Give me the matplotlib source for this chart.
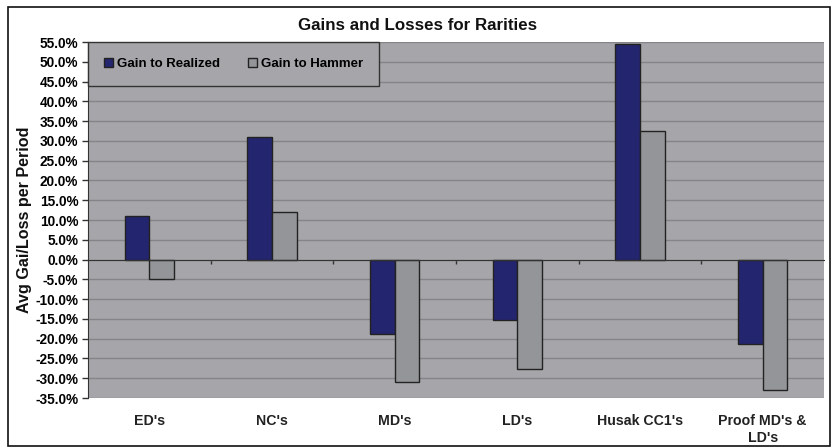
import matplotlib
matplotlib.use("Agg")
import matplotlib.pyplot as plt
import matplotlib.transforms as mtransforms
from matplotlib.patches import Rectangle
from matplotlib.ticker import FixedLocator, FuncFormatter
import numpy as np

plt.rcParams['font.family'] = ['Liberation Sans', 'DejaVu Sans']
plt.rcParams['font.weight'] = 'bold'

categories = ["ED's", "NC's", "MD's", "LD's", "Husak CC1's", "Proof MD's &\nLD's"]
gain_to_realized = [10.9, 31.1, -18.8, -15.4, 54.4, -21.4]
gain_to_hammer = [-4.8, 12.1, -30.9, -27.7, 32.5, -33.0]
y_ticks = [55, 50, 45, 40, 35, 30, 25, 20, 15, 10, 5, 0, -5, -10, -15, -20, -25, -30, -35]

fig = plt.figure(figsize=(8.36, 4.48), dpi=100)
fig.patch.set_facecolor('white')
ax = fig.add_axes([88/836, 1-398/448, (824-88)/836, (398-42)/448])
ax.set_facecolor('#A6A6AA')

x = np.arange(len(categories))
w = 0.2
ax.bar(x - w/2, gain_to_realized, w, color='#24256F', edgecolor='#222222', linewidth=1.0,
       label='Gain to Realized', zorder=3)
ax.bar(x + w/2, gain_to_hammer, w, color='#949598', edgecolor='#222222', linewidth=1.0,
       label='Gain to Hammer', zorder=3)

ax.set_xlim(-0.5, len(categories) - 0.5)
ax.set_ylim(-35, 55)
ax.yaxis.set_major_locator(FixedLocator(y_ticks))
ax.yaxis.set_major_formatter(FuncFormatter(lambda v, p: f"{v:.1f}%"))
ax.grid(axis='y', color='#858589', linewidth=1.0, zorder=0)
ax.tick_params(axis='y', labelsize=9.8, length=4, width=1, color='#333333', pad=3)
for t in ax.get_yticklabels():
    t.set_fontweight('bold')

# x-axis on zero line with ticks at category boundaries
ax.spines['bottom'].set_position(('data', 0))
ax.spines['bottom'].set_color('#333333')
ax.spines['bottom'].set_zorder(4)
ax.xaxis.set_major_locator(FixedLocator(np.arange(0.5, len(categories) - 0.5, 1.0)))
ax.tick_params(axis='x', length=3, width=1, color='#333333', labelbottom=False)
ax.spines['top'].set_visible(False)
ax.spines['right'].set_visible(False)
ax.spines['left'].set_color('#333333')

trans = mtransforms.blended_transform_factory(ax.transData, ax.transAxes)
for xi, c in zip(x, categories):
    ax.text(xi, -0.045, c, transform=trans, ha='center', va='top', fontsize=10.2,
            fontweight='bold', color='#222222', linespacing=1.3)

fig.text(25/836, 1 - 220/448, 'Avg Gai/Loss per Period', rotation=90, ha='center',
         va='center', fontsize=11.6, fontweight='bold', color='#111111')

fig.text(0.5, 1 - 25/448, 'Gains and Losses for Rarities', ha='center', va='center',
         fontsize=12.2, fontweight='bold', color='#111111')

leg = ax.legend(loc='upper left', bbox_to_anchor=(0.0, 1.0), ncol=2, frameon=True,
                fancybox=False, fontsize=9.5, handlelength=0.7, handleheight=0.7,
                handletextpad=0.3, columnspacing=2.1, borderpad=1.2, borderaxespad=0)
leg.get_frame().set_facecolor('#A6A6AA')
leg.get_frame().set_edgecolor('#333333')
leg.get_frame().set_linewidth(1.0)
leg.get_frame().set_alpha(1)
for t in leg.get_texts():
    t.set_fontweight('bold')
leg.set_zorder(5)

# outer chart border
fig.patches.append(Rectangle((8/836, 1-446/448), (830-8)/836, (446-7)/448,
                             transform=fig.transFigure, fill=False,
                             edgecolor='#111111', linewidth=1.2))

fig.savefig('out.png', dpi=100)
